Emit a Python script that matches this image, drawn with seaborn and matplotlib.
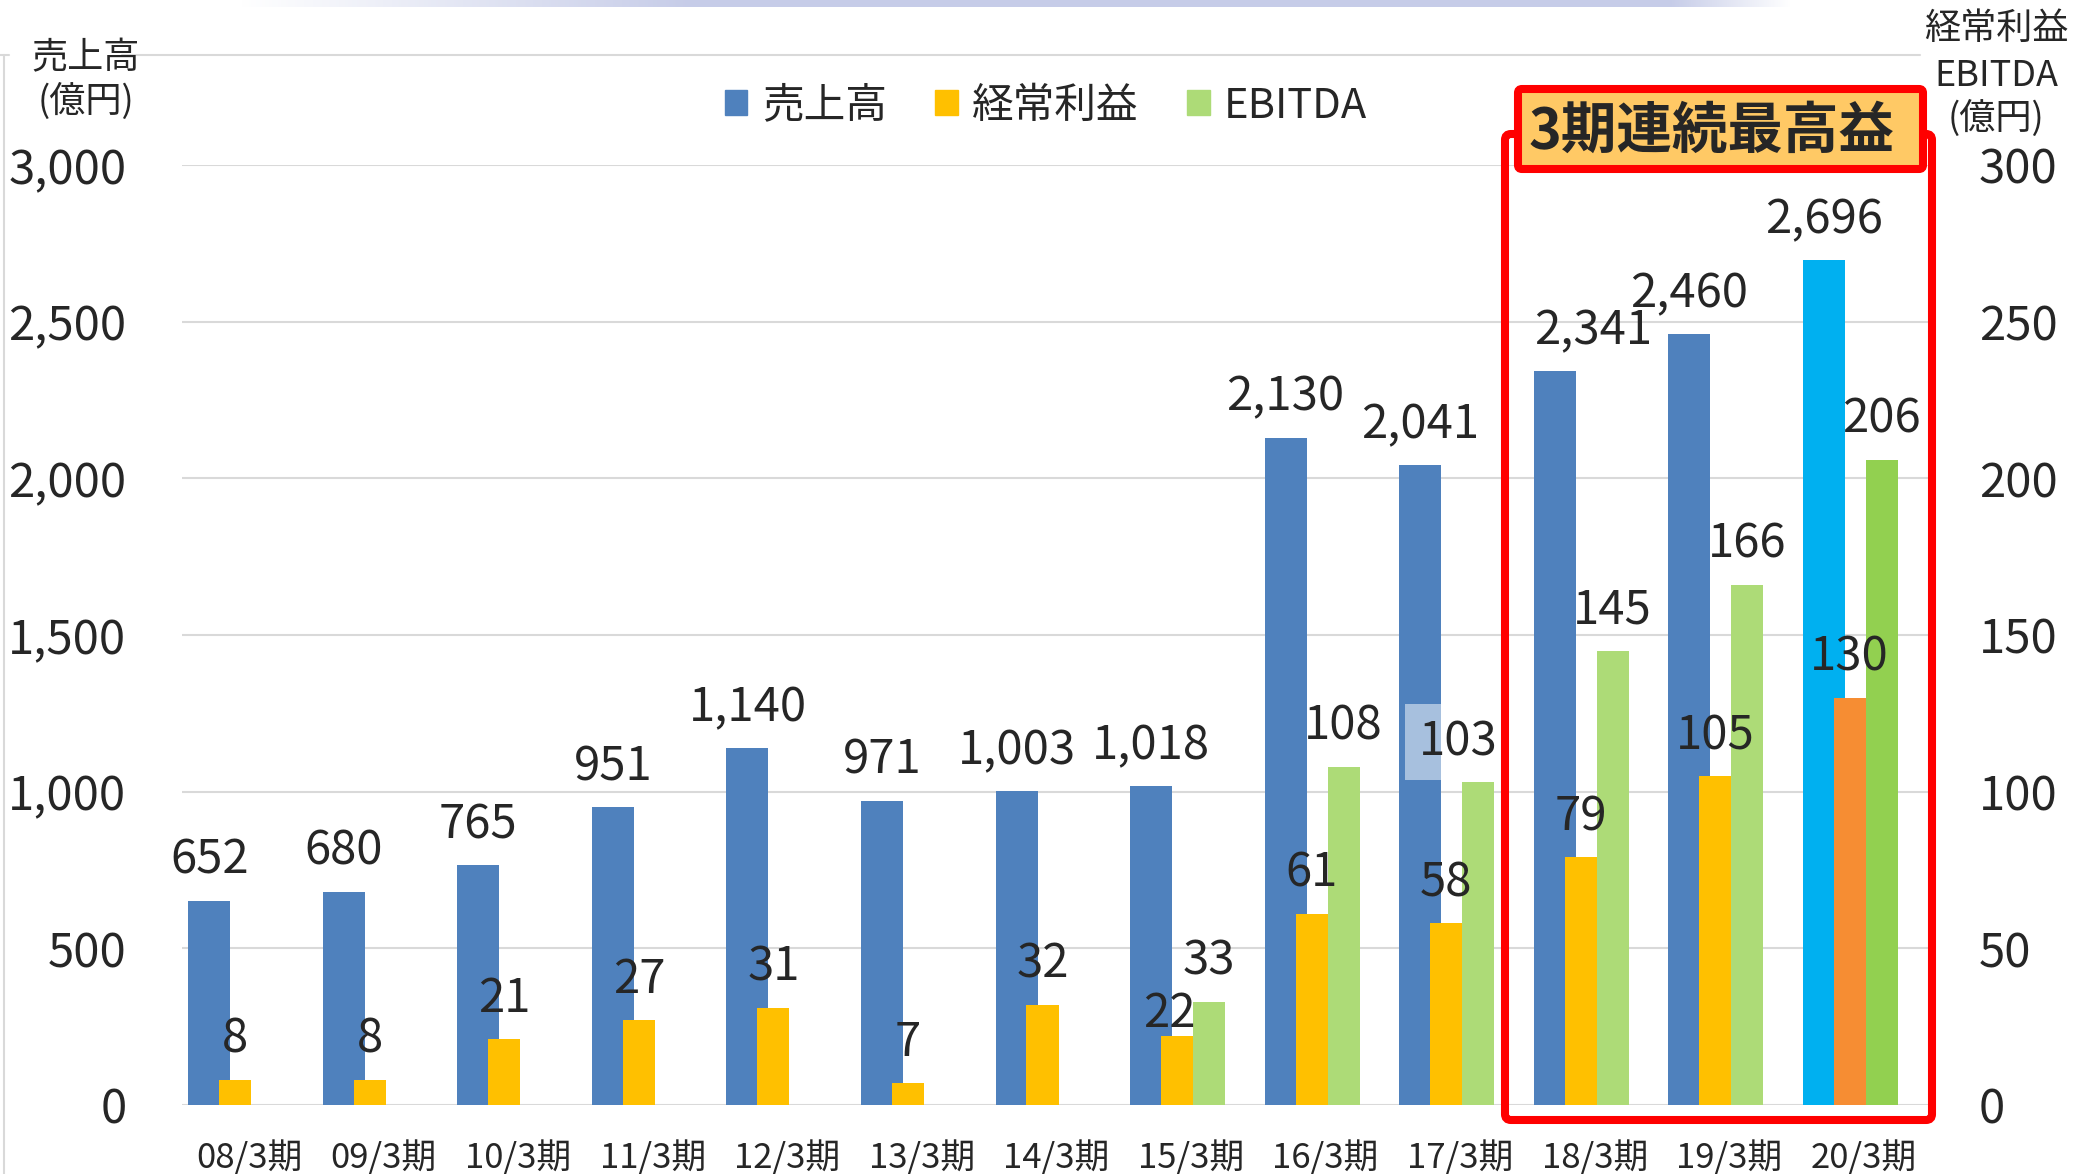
import numpy as np
import pandas as pd
import seaborn as sns
import matplotlib.pyplot as plt
from matplotlib.patches import Patch, FancyBboxPatch
from matplotlib.lines import Line2D

# data (億円)
periods = ['08/3期', '09/3期', '10/3期', '11/3期', '12/3期', '13/3期', '14/3期',
           '15/3期', '16/3期', '17/3期', '18/3期', '19/3期', '20/3期']
sales = [652, 680, 765, 951, 1140, 971, 1003, 1018, 2130, 2041, 2341, 2460, 2696]
profit = [8, 8, 21, 27, 31, 7, 32, 22, 61, 58, 79, 105, 130]
ebitda_periods = ['15/3期', '16/3期', '17/3期', '18/3期', '19/3期', '20/3期']
ebitda = [33, 108, 103, 145, 166, 206]

sales_colors = ['#4F81BD'] * 12 + ['#00B0F0']
profit_colors = ['#FFC000'] * 12 + ['#F68D33']
ebitda_colors = ['#ADDB77'] * 5 + ['#92D050']

sns.set_style('white')
plt.rcParams['font.family'] = ['Noto Sans CJK JP', 'DejaVu Sans']

W, H = 2073, 1174
fig = plt.figure(figsize=(W / 100, H / 100), dpi=100)


def fx(px):
    return px / W


def fy(py):
    return 1 - py / H


ax = fig.add_axes([fx(182), fy(1105), (1931 - 182) / W, (1105 - 165) / H])
ax2 = ax.twinx()

idx = np.arange(len(periods))
e_idx = np.array([periods.index(p) for p in ebitda_periods])

# bars: sales on left axis, profit / EBITDA on right axis
sns.barplot(x=idx - 0.297, y=sales, hue=periods, palette=sales_colors,
            native_scale=True, width=0.312, saturation=1, errorbar=None,
            legend=False, linewidth=0, ax=ax)
sns.barplot(x=idx - 0.104, y=profit, hue=periods, palette=profit_colors,
            native_scale=True, width=0.238, saturation=1, errorbar=None,
            legend=False, linewidth=0, ax=ax2)
sns.barplot(x=e_idx + 0.134, y=ebitda, hue=ebitda_periods, palette=ebitda_colors,
            native_scale=True, width=0.238, saturation=1, errorbar=None,
            legend=False, linewidth=0, ax=ax2)

ax.set_xlim(-0.5, 12.5)
ax.set_ylim(0, 3000)
ax2.set_ylim(0, 300)
ax.set_xticks(idx, periods)
ax.set_yticks(range(0, 3001, 500), [f'{v:,}' for v in range(0, 3001, 500)])
ax2.set_yticks(range(0, 301, 50), [str(v) for v in range(0, 301, 50)])
ax.set_xlabel('')
ax.set_ylabel('')
ax2.set_ylabel('')
ax.tick_params(axis='x', length=0, pad=26, labelsize=25)
ax.tick_params(axis='y', length=0, pad=40, labelsize=34)
ax2.tick_params(axis='y', length=0, pad=34.5, labelsize=34)
for a in (ax, ax2):
    for s in a.spines.values():
        s.set_visible(False)
ax.yaxis.grid(True, color='#D9D9D9', lw=1.5)
ax.xaxis.grid(False)
ax2.grid(False)
ax.set_axisbelow(True)

# data labels
sales_dx = {10: 38}
profit_dx = {7: -8}
profit_dy = {7: -18}
ebitda_dx = {'17/3期': -20}

for i, v in enumerate(sales):
    ax.annotate(f'{v:,}', (i - 0.297, v), xytext=(sales_dx.get(i, 0), 27),
                textcoords='offset pixels', ha='center', va='baseline', fontsize=34)
for i, v in enumerate(profit):
    ax2.annotate(str(v), (i - 0.104, v),
                 xytext=(profit_dx.get(i, 0), 27 + profit_dy.get(i, 0)),
                 textcoords='offset pixels', ha='center', va='baseline', fontsize=34)
for p, i, v in zip(ebitda_periods, e_idx, ebitda):
    box = None
    if p == '17/3期':
        box = dict(boxstyle='square,pad=0.3', fc='white', ec='none', alpha=0.5)
    ax2.annotate(str(v), (i + 0.134, v), xytext=(ebitda_dx.get(p, 0), 27),
                 textcoords='offset pixels', ha='center', va='baseline', fontsize=34,
                 bbox=box)

# legend
handles = [Patch(color='#4F81BD', label='売上高'),
           Patch(color='#FFC000', label='経常利益'),
           Patch(color='#ADDB77', label='EBITDA')]
fig.legend(handles=handles, loc='center', bbox_to_anchor=(fx(1046), fy(106)),
           ncol=3, frameon=False, fontsize=30, handlelength=0.55, handleheight=0.55,
           handletextpad=0.35, columnspacing=1.15, borderpad=0)

# axis titles
fig.text(fx(86), fy(58), '売上高', ha='center', va='center', fontsize=26)
fig.text(fx(86), fy(101), '(億円)', ha='center', va='center', fontsize=26)
fig.text(fx(1996), fy(29), '経常利益', ha='center', va='center', fontsize=26)
fig.text(fx(1996), fy(76), 'EBITDA', ha='center', va='center', fontsize=26)
fig.text(fx(1996), fy(118), '(億円)', ha='center', va='center', fontsize=26)

# slide frame lines and top band
fig.add_artist(Line2D([fx(122), fx(1920)], [fy(55), fy(55)], color='#D9D9D9', lw=1.5))
fig.add_artist(Line2D([fx(0), fx(9)], [fy(55), fy(55)], color='#D9D9D9', lw=1.5))
fig.add_artist(Line2D([fx(4), fx(4)], [fy(55), 0], color='#D9D9D9', lw=1.5))

band = fig.add_axes([0, fy(7), 1, 7 / H])
band.axis('off')
xs = np.arange(W)
alpha = np.clip((xs - 240) / 450, 0, 1) * np.clip((1790 - xs) / 120, 0, 1)
img = np.zeros((1, W, 4))
img[..., 0], img[..., 1], img[..., 2] = 0.78, 0.80, 0.91
img[0, :, 3] = alpha
band.imshow(img, aspect='auto', extent=(0, 1, 0, 1))

# highlight frame for the last three periods
tr = fig.dpi_scale_trans
fig.add_artist(FancyBboxPatch(((1505) / 100, (H - 1120) / 100), (1932 - 1505) / 100,
                              (1120 - 134) / 100,
                              boxstyle='round,pad=0,rounding_size=0.06',
                              fc='none', ec='#FF0000', lw=5.8, transform=tr))
fig.add_artist(FancyBboxPatch(((1518) / 100, (H - 169) / 100), (1923 - 1518) / 100,
                              (169 - 89) / 100,
                              boxstyle='round,pad=0,rounding_size=0.04',
                              fc='#FFC965', ec='#FF0000', lw=5.8, transform=tr))
fig.text(fx(1711), fy(132), '3期連続最高益', ha='center', va='center',
         fontsize=40, fontweight='bold')

fig.savefig('out.png', dpi=100)
